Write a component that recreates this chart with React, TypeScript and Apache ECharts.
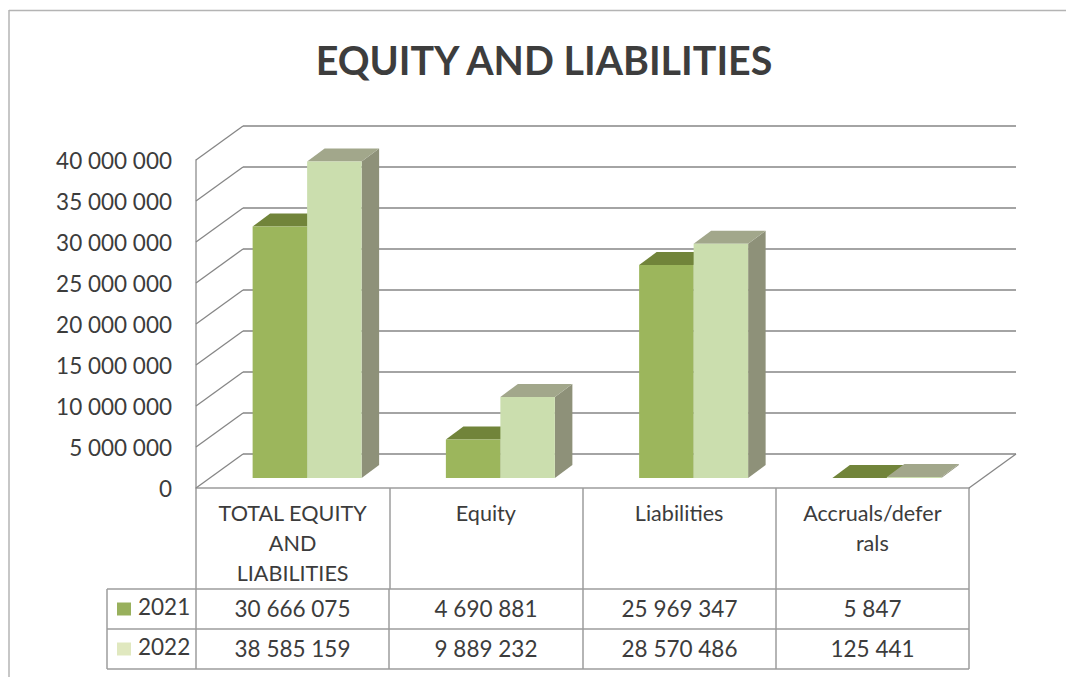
import React, { useEffect, useRef } from "react";
import * as echarts from "echarts";

const categories = ["TOTAL EQUITY\nAND\nLIABILITIES", "Equity", "Liabilities", "Accruals/defer\nrals"];
const years = ["2021", "2022"];
const values2021 = [30666075, 4690881, 25969347, 5847];
const values2022 = [38585159, 9889232, 28570486, 125441];
const gridTicks = [0, 5000000, 10000000, 15000000, 20000000, 25000000, 30000000, 35000000, 40000000];

const TEXT = "#3c3c3c";
const LINE = "#9c9c9c";
const FONT = "Lato";

const fmt = (v: number) => String(v).replace(/\B(?=(\d{3})+(?!\d))/g, " ");

const BAR_W = 54.5;
const GROUP_DX = 14.5;
const BASE_DY = -10;
const DEPTH_X = 17.5;
const DEPTH_Y = -13;
const WALL_X = 47;
const WALL_Y = -34;

const palette = [
  { front: "#9cb65c", top: "#71843a", side: "#7e8c58" },
  { front: "#cbdeae", top: "#a2a78b", side: "#8e9179" },
];

function barSeries(name: string, values: number[], idx: number) {
  const c = palette[idx];
  return {
    type: "custom",
    name,
    xAxisIndex: 0,
    yAxisIndex: 0,
    z: 5 + idx,
    clip: false,
    silent: true,
    encode: { x: 0, y: 1 },
    data: values.map((v, i) => [i, v]),
    renderItem: (_p: any, api: any) => {
      const top = api.coord([api.value(0), api.value(1)]);
      const bot = api.coord([api.value(0), 0]);
      const x0 = top[0] + GROUP_DX + (idx === 0 ? -BAR_W : 0);
      const x1 = x0 + BAR_W;
      const yT = top[1] + BASE_DY;
      const yB = bot[1] + BASE_DY;
      return {
        type: "group",
        children: [
          {
            type: "polygon",
            shape: { points: [[x1, yB], [x1 + DEPTH_X, yB + DEPTH_Y], [x1 + DEPTH_X, yT + DEPTH_Y], [x1, yT]] },
            style: { fill: c.side },
          },
          {
            type: "polygon",
            shape: { points: [[x0, yT], [x1, yT], [x1 + DEPTH_X, yT + DEPTH_Y], [x0 + DEPTH_X, yT + DEPTH_Y]] },
            style: { fill: c.top },
          },
          { type: "rect", shape: { x: x0, y: yT, width: BAR_W, height: yB - yT }, style: { fill: c.front } },
        ],
      };
    },
  };
}

const COL_X = [107, 196, 389, 583, 776, 969];
const ROW_Y = [589, 629, 669];
const FIRST_ROW_Y = 488;

function tableGraphics() {
  const lineStyle = { stroke: LINE, lineWidth: 1.5 };
  const out: any[] = [];
  // page frame
  out.push({ type: "line", shape: { x1: 9, y1: 10.5, x2: 1066, y2: 10.5 }, style: { stroke: "#b4b4b4", lineWidth: 1.5 } });
  out.push({ type: "line", shape: { x1: 9, y1: 10, x2: 9, y2: 677 }, style: { stroke: "#b4b4b4", lineWidth: 1.5 } });
  // row lines
  ROW_Y.forEach((y) => out.push({ type: "line", shape: { x1: COL_X[0], y1: y, x2: COL_X[5], y2: y }, style: lineStyle }));
  // columns inside legend rows
  out.push({ type: "line", shape: { x1: COL_X[0], y1: ROW_Y[0], x2: COL_X[0], y2: ROW_Y[2] }, style: lineStyle });
  COL_X.slice(1).forEach((x) =>
    out.push({ type: "line", shape: { x1: x, y1: ROW_Y[0], x2: x, y2: ROW_Y[2] }, style: lineStyle })
  );
  // values + legend keys
  [values2021, values2022].forEach((vals, r) => {
    const cy = (ROW_Y[r] + ROW_Y[r + 1]) / 2;
    out.push({
      type: "rect",
      shape: { x: 117, y: cy - 6.5, width: 14, height: 13 },
      style: { fill: r === 0 ? "#98b05c" : "#e0e8bf" },
    });
    out.push({
      type: "text",
      x: 138,
      y: cy - 3,
      style: { text: years[r], font: `22.5px ${FONT}`, fill: TEXT, textAlign: "left", textVerticalAlign: "middle" },
    });
    vals.forEach((v, c) =>
      out.push({
        type: "text",
        x: (COL_X[c + 1] + COL_X[c + 2]) / 2,
        y: cy - 1,
        style: { text: fmt(v), font: `22.5px ${FONT}`, fill: TEXT, textAlign: "center", textVerticalAlign: "middle" },
      })
    );
  });
  return out;
}

export default function App() {
  const ref = useRef<HTMLDivElement>(null);
  useEffect(() => {
    const chart = echarts.init(ref.current!, undefined, { renderer: "svg" });
    chart.setOption({
      animation: false,
      backgroundColor: "#ffffff",
      title: {
        text: "EQUITY AND LIABILITIES",
        left: 539,
        top: 35,
        textAlign: "center",
        textStyle: { fontFamily: FONT, fontWeight: "bold", fontSize: 39.4, color: "#3d3d3d" },
      },
      grid: [
        { left: 196, width: 773, top: 160, height: FIRST_ROW_Y - 160 },
        { left: 196 + WALL_X, width: 773, top: 160 + WALL_Y, height: FIRST_ROW_Y - 160 },
      ],
      xAxis: [
        {
          type: "category",
          gridIndex: 0,
          data: categories,
          axisLine: { show: true, lineStyle: { color: LINE, width: 1.5 } },
          axisTick: { show: true, length: ROW_Y[0] - FIRST_ROW_Y, lineStyle: { color: LINE, width: 1.5 } },
          axisLabel: {
            color: TEXT,
            fontFamily: FONT,
            fontSize: 21.6,
            lineHeight: 30,
            margin: 10,
            interval: 0,
            verticalAlign: "top",
          },
        },
        { type: "category", gridIndex: 1, data: categories, show: false },
      ],
      yAxis: [
        {
          type: "value",
          gridIndex: 0,
          min: 0,
          max: 40000000,
          interval: 5000000,
          axisLine: { show: true, lineStyle: { color: LINE, width: 1.5 } },
          axisTick: { show: false },
          splitLine: { show: false },
          axisLabel: {
            color: TEXT,
            fontFamily: FONT,
            fontSize: 22.5,
            margin: 24,
            formatter: (v: number) => fmt(v),
          },
        },
        {
          type: "value",
          gridIndex: 1,
          min: 0,
          max: 40000000,
          interval: 5000000,
          axisLine: { show: false },
          axisTick: { show: false },
          axisLabel: { show: false },
          splitLine: { show: true, lineStyle: { color: "#868686", width: 1.5 } },
        },
      ],
      graphic: tableGraphics(),
      series: [
        {
          type: "custom",
          name: "wall",
          xAxisIndex: 0,
          yAxisIndex: 0,
          z: 1,
          clip: false,
          silent: true,
          encode: { x: 0, y: 1 },
          data: gridTicks.map((t) => [0, t]),
          renderItem: (p: any, api: any) => {
            const y = api.coord([0, api.value(1)])[1];
            const x = p.coordSys.x;
            const lines: any[] = [
              {
                type: "line",
                shape: { x1: x, y1: y, x2: x + WALL_X, y2: y + WALL_Y },
                style: { stroke: "#868686", lineWidth: 1.3 },
              },
            ];
            if (api.value(1) === 0) {
              const xr = x + p.coordSys.width;
              lines.push({
                type: "line",
                shape: { x1: xr, y1: y, x2: xr + WALL_X, y2: y + WALL_Y },
                style: { stroke: "#868686", lineWidth: 1.3 },
              });
            }
            return { type: "group", children: lines };
          },
        },
        barSeries(years[0], values2021, 0),
        barSeries(years[1], values2022, 1),
      ],
    });
    return () => chart.dispose();
  }, []);
  return <div ref={ref} style={{ position: "absolute", left: 0, top: 0, width: 1066, height: 677 }} />;
}
